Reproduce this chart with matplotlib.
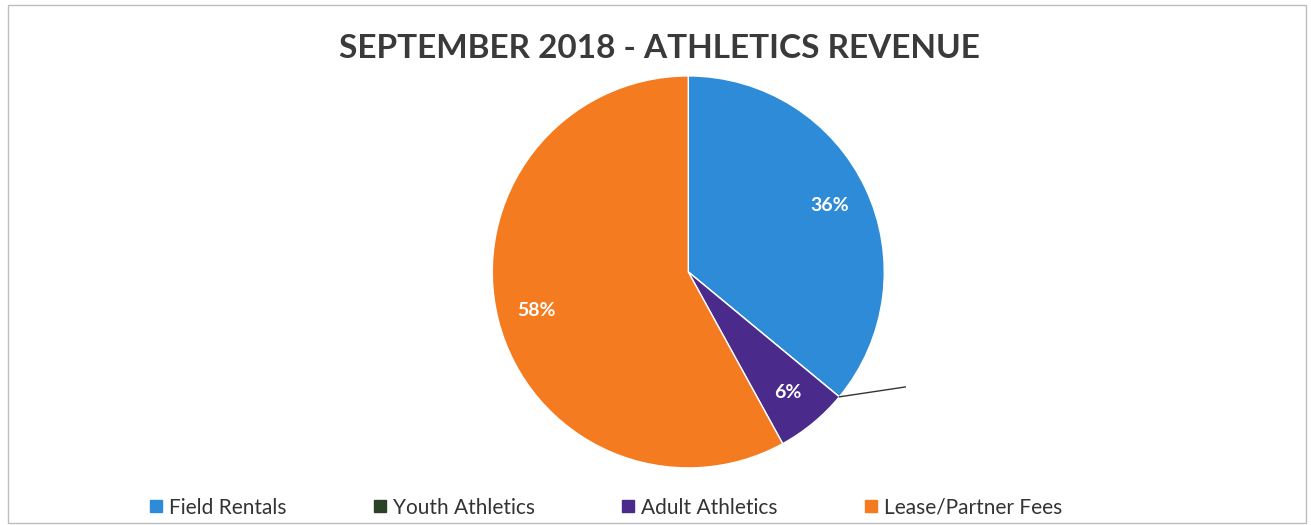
import matplotlib.pyplot as plt
import numpy as np
from matplotlib.patches import Rectangle

categories = ['Field Rentals', 'Youth Athletics', 'Adult Athletics', 'Lease/Partner Fees']
shares = [36, 0, 6, 58]
colors = ['#2E8BD8', '#2C4228', '#4A2A8A', '#F47B20']

plt.rcParams['font.family'] = ['Lato', 'DejaVu Sans']

fig = plt.figure(figsize=(13.11, 5.25), dpi=100)

# cadre gris autour du graphique
fig.patches.append(Rectangle((8 / 1311, 2 / 525), 1298 / 1311, 518 / 525,
                             transform=fig.transFigure, fill=False,
                             edgecolor='#bdbdbd', linewidth=1))

ax = fig.add_axes([0.525 - 0.1495, 0.482 - 0.3733, 0.299, 0.7467])


def fmt(p):
    return f'{p:.0f}%' if p >= 0.5 else ''


wedges, texts, autotexts = ax.pie(shares, colors=colors, startangle=90, counterclock=False,
                                  autopct=fmt, pctdistance=0.8,
                                  wedgeprops={'linewidth': 1, 'edgecolor': 'white'})
for t in autotexts:
    t.set_color('white')
    t.set_fontsize(14)
    t.set_fontweight('bold')
ax.set_aspect('equal')

# ligne de rappel pour la part à 0 %
ang = np.deg2rad(90 - 360 * (shares[0] + shares[1]) / sum(shares))
ax.plot([np.cos(ang), 1.107], [np.sin(ang), -0.587], color='#333333', linewidth=1,
        clip_on=False)
ax.set_xlim(-1.0, 1.0)
ax.set_ylim(-1.0, 1.0)
ax.axis('off')

fig.text(0.503, 0.907, 'SEPTEMBER 2018 - ATHLETICS REVENUE', ha='center', va='center',
         fontsize=24, fontweight='bold', color='#3a3a3a')

handles = [plt.Line2D([], [], marker='s', linestyle='', color=c, markersize=9) for c in colors]
fig.legend(handles, categories, loc='center', bbox_to_anchor=(0.461, 0.033), ncol=4,
           frameon=False, fontsize=15, columnspacing=4.05, handletextpad=0.15,
           handlelength=0.9, labelcolor='#333333')

fig.savefig('out.png', dpi=100)
